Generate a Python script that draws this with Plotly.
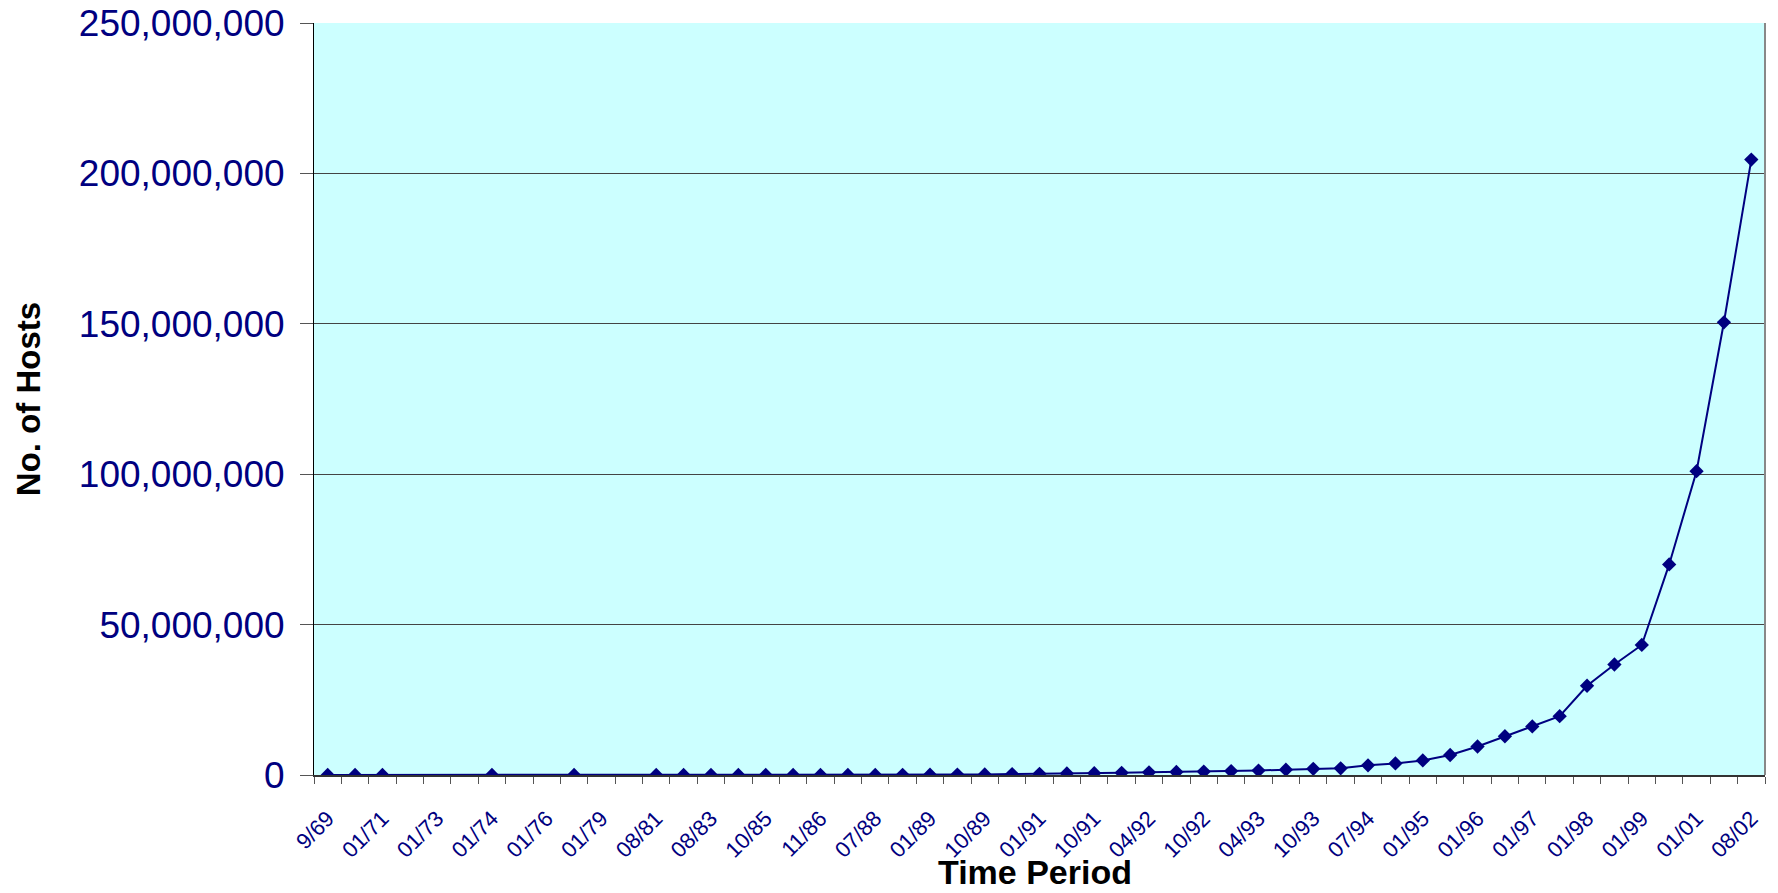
import plotly.graph_objects as go

# Category names (every category of the x axis); labels are shown on every other one
categories = [
    "9/69", "06/70", "01/71", "01/72", "01/73", "06/73", "01/74", "01/75", "01/76", "03/77",
    "01/79", "01/80", "08/81", "05/82", "08/83", "10/84", "10/85", "02/86", "11/86", "12/87",
    "07/88", "10/88", "01/89", "07/89", "10/89", "10/90", "01/91", "07/91", "10/91", "01/92",
    "04/92", "07/92", "10/92", "01/93", "04/93", "07/93", "10/93", "01/94", "07/94", "10/94",
    "01/95", "07/95", "01/96", "07/96", "01/97", "07/97", "01/98", "07/98", "01/99", "01/00",
    "01/01", "01/02", "08/02",
]

# Number of hosts (None = no data for that period)
hosts = [
    4, 13, 23, None, None, None, 62, None, None, 111,
    None, None, 213, 235, 562, 1024, 1961, 2308, 5089, 28174,
    33000, 56000, 80000, 130000, 159000, 313000, 376000, 535000, 617000, 727000,
    890000, 992000, 1136000, 1313000, 1486000, 1776000, 2056000, 2217000, 3212000, 3864000,
    4852000, 6642000, 9472000, 12881000, 16146000, 19540000, 29670000, 36739000, 43230000, 70000000,
    101000000, 150500000, 204600000,
]

y_tick_values = [0, 50000000, 100000000, 150000000, 200000000, 250000000]

NAVY = "#000080"
FONT = "Liberation Sans, Arial, sans-serif"

idx = list(range(len(categories)))
label_idx = idx[::2]
label_txt = [categories[i] for i in label_idx]

fig = go.Figure()
fig.add_trace(go.Scatter(
    x=idx, y=hosts, mode="lines+markers", connectgaps=True,
    line=dict(color=NAVY, width=2),
    marker=dict(symbol="diamond", size=11, color=NAVY),
    showlegend=False,
))

fig.update_layout(
    width=1778, height=893,
    margin=dict(l=314, r=13, t=23, b=118, autoexpand=False),
    paper_bgcolor="white",
    plot_bgcolor="#CCFFFF",
    font=dict(family=FONT),
    xaxis=dict(
        range=[-0.5, len(categories) - 0.5],
        tickmode="array", tickvals=label_idx, ticktext=label_txt,
        tickangle=-45, ticks="",
        tickfont=dict(size=22, color=NAVY, family=FONT),
        showgrid=False, zeroline=False, automargin=False,
        showline=True, linecolor="#333333", linewidth=2,
        minor=dict(tickmode="array", tickvals=[i - 0.5 for i in range(len(categories) + 1)],
                   ticks="outside", ticklen=7, tickcolor="#555555", tickwidth=1, showgrid=False),
        ticklabelstandoff=20,
    ),
    yaxis=dict(
        range=[0, 250000000],
        tickmode="array", tickvals=y_tick_values, tickformat=",d",
        tickfont=dict(size=37, color=NAVY, family=FONT),
        ticks="outside", ticklen=13, tickcolor="#555555", tickwidth=1,
        showgrid=True, gridcolor="#444444", gridwidth=1,
        zeroline=False, automargin=False, ticklabeloverflow="allow",
        showline=True, linecolor="black", linewidth=1,
        ticklabelstandoff=8,
    ),
    annotations=[
        dict(text="<b>Time Period</b>", xref="paper", yref="paper", x=0.497, y=-0.129,
             xanchor="center", yanchor="middle", showarrow=False,
             font=dict(size=34, color="black", family=FONT)),
        dict(text="<b>No. of Hosts</b>", xref="paper", yref="paper", x=-0.197, y=0.5,
             xanchor="center", yanchor="middle", showarrow=False, textangle=-90,
             font=dict(size=33, color="black", family=FONT)),
    ],
    shapes=[dict(type="line", xref="paper", yref="paper", x0=1, x1=1, y0=0, y1=1,
                 line=dict(color="#888888", width=2))],
)

# remove the default 8px page margin so the figure fills the window exactly
fig.write_html("out.html", config={"displayModeBar": False},
               post_script="document.body.style.margin='0';")
